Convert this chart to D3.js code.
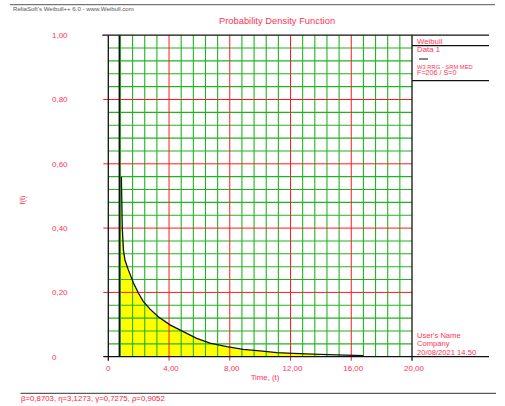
<!DOCTYPE html>
<html>
<head>
<meta charset="utf-8">
<script src="https://cdn.jsdelivr.net/npm/d3@7"></script>
<style>
  html, body { margin: 0; padding: 0; background: #fff; }
  svg { display: block; font-family: "Liberation Sans", Arial, sans-serif; }
</style>
</head>
<body>
<svg id="chart" width="505" height="406"></svg>
<script>
// Weibull 3-parameter probability density, sampled along time
const timeValues = [0.86, 0.92, 1.00, 1.10, 1.32, 1.65, 1.98, 2.30, 2.75, 3.29, 4.06, 4.94, 5.82, 6.70, 7.80, 8.89, 9.99, 11.09, 12.19, 13.00, 13.93, 15.00, 16.80];
const densityValues = [0.560, 0.400, 0.330, 0.300, 0.270, 0.230, 0.198, 0.172, 0.148, 0.124, 0.099, 0.078, 0.057, 0.042, 0.031, 0.023, 0.018, 0.0124, 0.0105, 0.0087, 0.0070, 0.0054, 0.0035];
const fillEnd = 13.93;          // shaded area stops here
const gammaLocation = 0.7275;   // location parameter line

const xTickValues = [0, 4, 8, 12, 16, 20];
const xTickLabels = ["0", "4,00", "8,00", "12,00", "16,00", "20,00"];
const yTickValues = [0, 0.2, 0.4, 0.6, 0.8, 1.0];
const yTickLabels = ["0", "0,20", "0,40", "0,60", "0,80", "1,00"];

const legendLines = ["Weibull", "Data 1"];
const footerLines = ["User's Name", "Company", "20/08/2021 14.50"];
const paramText = "β=0,8703, η=3,1273, γ=0,7275, ρ=0,9052";

const RED = "#ff3355";
const GREEN = "#20b420";
const svg = d3.select("#chart");

const x = d3.scaleLinear().domain([0, 20]).range([108.3, 412]);
const y = d3.scaleLinear().domain([0, 1]).range([356.7, 35.2]);

// header
svg.append("line").attr("x1", 10).attr("x2", 495).attr("y1", 4.7).attr("y2", 4.7)
  .attr("stroke", "#555").attr("stroke-width", 1);
svg.append("text").attr("x", 13).attr("y", 11).attr("font-size", 6.1).attr("fill", "#555")
  .text("ReliaSoft's Weibull++ 6.0 - www.Weibull.com");

svg.append("text").attr("x", 277).attr("y", 23.5).attr("text-anchor", "middle")
  .attr("font-size", 9.4).attr("fill", RED).text("Probability Density Function");

// shaded area under the density curve
const pts = timeValues.map((t, i) => [t, densityValues[i]]);
const fillPts = pts.filter(p => p[0] <= fillEnd + 1e-9);
svg.append("path")
  .attr("d", d3.area().x(p => x(p[0])).y0(y(0)).y1(p => y(p[1]))(fillPts))
  .attr("fill", "#ffff00");

// minor grid (skipping the major positions)
const g = svg.append("g");
const isMajorX = v => Math.abs(v / 4 - Math.round(v / 4)) < 1e-6;
const isMajorY = v => Math.abs(v / 0.2 - Math.round(v / 0.2)) < 1e-6;
d3.range(0, 20.0001, 0.8).filter(v => !isMajorX(v)).forEach(v => {
  g.append("line").attr("x1", x(v)).attr("x2", x(v)).attr("y1", y(0)).attr("y2", y(1))
    .attr("stroke", GREEN).attr("stroke-width", 1.1);
});
d3.range(0, 1.0001, 0.04).filter(v => !isMajorY(v)).forEach(v => {
  g.append("line").attr("x1", x(0)).attr("x2", x(20)).attr("y1", y(v)).attr("y2", y(v))
    .attr("stroke", GREEN).attr("stroke-width", 1.1);
});
// major grid with outer ticks
xTickValues.slice(1, -1).forEach(v => {
  g.append("line").attr("x1", x(v)).attr("x2", x(v)).attr("y1", y(0) + 4).attr("y2", y(1))
    .attr("stroke", "#ff1a1a").attr("stroke-width", 1);
});
yTickValues.slice(1, -1).forEach(v => {
  g.append("line").attr("x1", x(0) - 5).attr("x2", x(20)).attr("y1", y(v)).attr("y2", y(v))
    .attr("stroke", "#ff1a1a").attr("stroke-width", 1);
});

// location parameter line
svg.append("line").attr("x1", x(gammaLocation)).attr("x2", x(gammaLocation))
  .attr("y1", y(0)).attr("y2", y(1)).attr("stroke", "#111").attr("stroke-width", 1.5);

// density curve
svg.append("path")
  .attr("d", d3.line().x(p => x(p[0])).y(p => y(p[1]))(pts))
  .attr("fill", "none").attr("stroke", "#111").attr("stroke-width", 1.3);

// frame
const frame = svg.append("g").attr("stroke", "#111").attr("stroke-width", 1.3);
frame.append("line").attr("x1", x(0)).attr("x2", x(0)).attr("y1", y(1)).attr("y2", y(0) + 4);
frame.append("line").attr("x1", x(20)).attr("x2", x(20)).attr("y1", y(1)).attr("y2", y(0) + 4);
frame.append("line").attr("x1", x(0) - 6).attr("x2", 489).attr("y1", y(1)).attr("y2", y(1));
frame.append("line").attr("x1", x(0) - 5).attr("x2", 489).attr("y1", y(0)).attr("y2", y(0));
frame.append("line").attr("x1", x(20)).attr("x2", 489).attr("y1", 45.7).attr("y2", 45.7);
frame.append("line").attr("x1", x(20)).attr("x2", 489).attr("y1", 80.7).attr("y2", 80.7);

// tick labels
yTickValues.forEach((v, i) => {
  svg.append("text").attr("x", 52).attr("y", y(v) + 2.9).attr("font-size", 8)
    .attr("fill", RED).text(yTickLabels[i]);
});
xTickValues.forEach((v, i) => {
  svg.append("text").attr("x", x(v) + (i ? 2 : 0)).attr("y", 371).attr("text-anchor", "middle")
    .attr("font-size", 8).attr("fill", RED).text(xTickLabels[i]);
});

svg.append("text").attr("transform", "translate(25,200) rotate(-90)").attr("text-anchor", "middle")
  .attr("font-size", 7).attr("fill", RED).text("f(t)");
svg.append("text").attr("x", 265).attr("y", 379.5).attr("text-anchor", "middle")
  .attr("font-size", 7.8).attr("fill", RED).text("Time, (t)");

// legend block
legendLines.forEach((s, i) => {
  svg.append("text").attr("x", 417).attr("y", 44 + i * 7.8).attr("font-size", 7.8)
    .attr("fill", RED).text(s);
});
svg.append("line").attr("x1", 419).attr("x2", 428).attr("y1", 59).attr("y2", 59)
  .attr("stroke", "#111").attr("stroke-width", 1);
svg.append("text").attr("x", 417).attr("y", 68.6).attr("font-size", 5.8)
  .attr("fill", RED).text("W3 RRG - SRM MED");
svg.append("text").attr("x", 417).attr("y", 75.4).attr("font-size", 7.2)
  .attr("fill", RED).text("F=206 / S=0");

footerLines.forEach((s, i) => {
  svg.append("text").attr("x", 417).attr("y", 337.5 + i * 8.7).attr("font-size", 7.6)
    .attr("fill", RED).text(s);
});

// parameter footer
svg.append("line").attr("x1", 20.5).attr("x2", 496).attr("y1", 393.3).attr("y2", 393.3)
  .attr("stroke", "#333").attr("stroke-width", 1);
svg.append("text").attr("x", 21).attr("y", 400.5).attr("font-size", 7.8)
  .attr("fill", "#ff2030").text(paramText);
</script>
</body>
</html>
